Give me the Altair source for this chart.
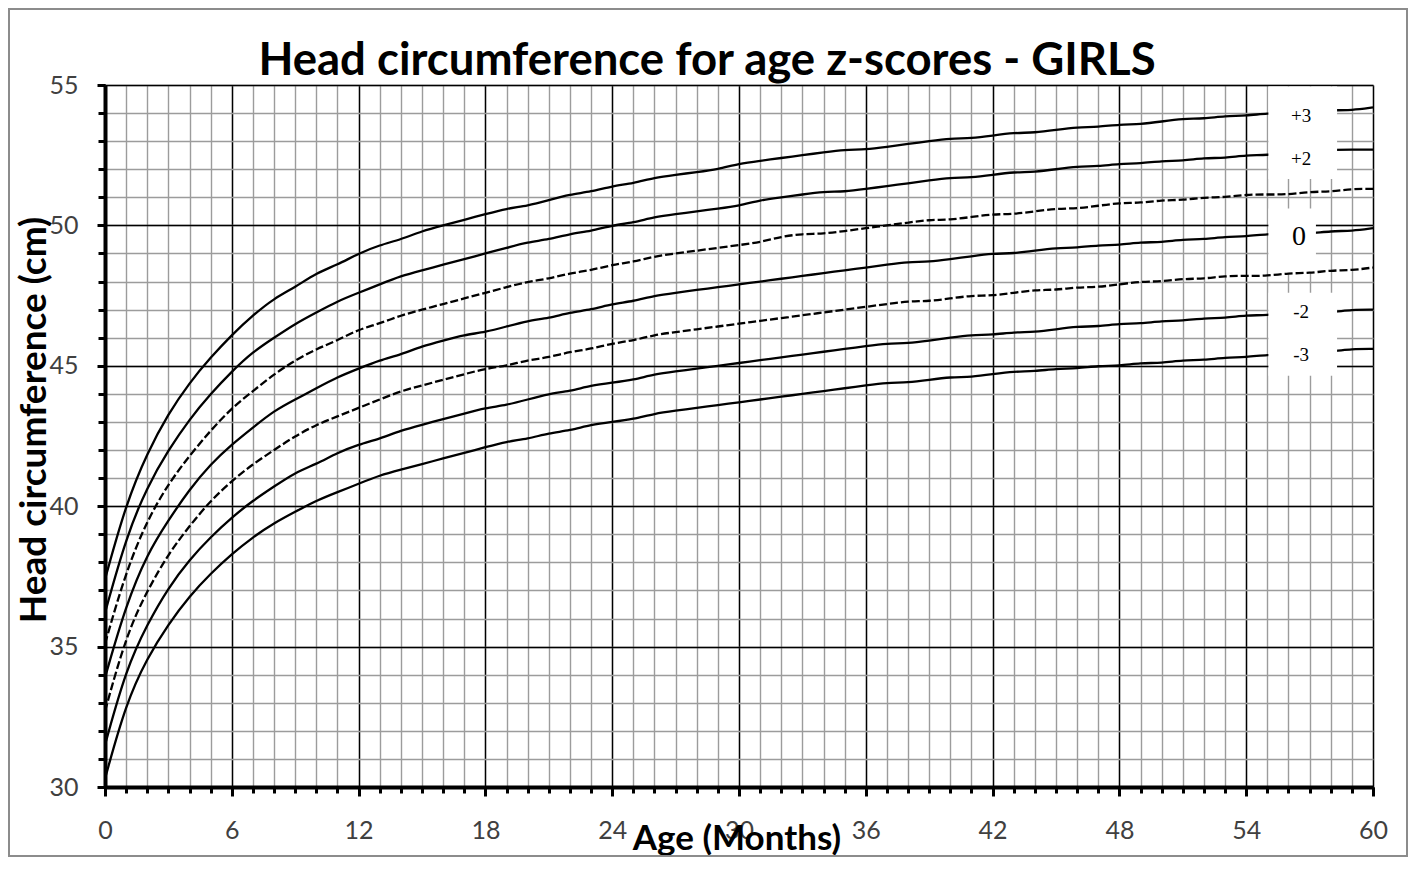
import altair as alt
import pandas as pd

months = list(range(0, 61))

# WHO head circumference-for-age, girls (cm)
z_m3 = [30.3, 33.0, 34.6, 35.8, 36.8, 37.6, 38.3, 38.9, 39.4, 39.8, 40.2, 40.5, 40.8,
        41.1, 41.3, 41.5, 41.7, 41.9, 42.1, 42.3, 42.4, 42.6, 42.7, 42.9, 43.0,
        43.1, 43.3, 43.4, 43.5, 43.6, 43.7, 43.8, 43.9, 44.0, 44.1, 44.2, 44.3,
        44.4, 44.4, 44.5, 44.6, 44.6, 44.7, 44.8, 44.8, 44.9, 44.9, 45.0, 45.0,
        45.1, 45.1, 45.2, 45.2, 45.3, 45.3, 45.4, 45.4, 45.5, 45.5, 45.6, 45.6]
z_m2 = [31.5, 34.2, 35.8, 37.1, 38.1, 38.9, 39.6, 40.2, 40.7, 41.2, 41.5, 41.9, 42.2,
        42.4, 42.7, 42.9, 43.1, 43.3, 43.5, 43.6, 43.8, 44.0, 44.1, 44.3, 44.4,
        44.5, 44.7, 44.8, 44.9, 45.0, 45.1, 45.2, 45.3, 45.4, 45.5, 45.6, 45.7,
        45.8, 45.8, 45.9, 46.0, 46.1, 46.1, 46.2, 46.2, 46.3, 46.4, 46.4, 46.5,
        46.5, 46.6, 46.6, 46.7, 46.7, 46.8, 46.8, 46.9, 46.9, 46.9, 47.0, 47.0]
z_m1 = [32.7, 35.4, 37.0, 38.3, 39.3, 40.2, 40.9, 41.5, 42.0, 42.5, 42.9, 43.2, 43.5,
        43.8, 44.1, 44.3, 44.5, 44.7, 44.9, 45.0, 45.2, 45.3, 45.5, 45.6, 45.8,
        45.9, 46.1, 46.2, 46.3, 46.4, 46.5, 46.6, 46.7, 46.8, 46.9, 47.0, 47.1,
        47.2, 47.3, 47.3, 47.4, 47.5, 47.5, 47.6, 47.7, 47.7, 47.8, 47.8, 47.9,
        48.0, 48.0, 48.1, 48.1, 48.2, 48.2, 48.2, 48.3, 48.3, 48.4, 48.4, 48.5]
z_0 = [33.9, 36.5, 38.3, 39.5, 40.6, 41.5, 42.2, 42.8, 43.4, 43.8, 44.2, 44.6, 44.9,
       45.2, 45.4, 45.7, 45.9, 46.1, 46.2, 46.4, 46.6, 46.7, 46.9, 47.0, 47.2,
       47.3, 47.5, 47.6, 47.7, 47.8, 47.9, 48.0, 48.1, 48.2, 48.3, 48.4, 48.5,
       48.6, 48.7, 48.7, 48.8, 48.9, 49.0, 49.0, 49.1, 49.2, 49.2, 49.3, 49.3,
       49.4, 49.4, 49.5, 49.5, 49.6, 49.6, 49.7, 49.7, 49.7, 49.8, 49.8, 49.9]
z_p1 = [35.1, 37.7, 39.5, 40.8, 41.8, 42.7, 43.5, 44.1, 44.7, 45.2, 45.6, 45.9, 46.3,
        46.5, 46.8, 47.0, 47.2, 47.4, 47.6, 47.8, 48.0, 48.1, 48.3, 48.4, 48.6,
        48.7, 48.9, 49.0, 49.1, 49.2, 49.3, 49.4, 49.6, 49.7, 49.7, 49.8, 49.9,
        50.0, 50.1, 50.2, 50.2, 50.3, 50.4, 50.4, 50.5, 50.6, 50.6, 50.7, 50.8,
        50.8, 50.9, 50.9, 51.0, 51.0, 51.1, 51.1, 51.1, 51.2, 51.2, 51.3, 51.3]
z_p2 = [36.2, 38.9, 40.7, 42.0, 43.1, 44.0, 44.8, 45.5, 46.0, 46.5, 46.9, 47.3, 47.6,
        47.9, 48.2, 48.4, 48.6, 48.8, 49.0, 49.2, 49.4, 49.5, 49.7, 49.8, 50.0,
        50.1, 50.3, 50.4, 50.5, 50.6, 50.7, 50.9, 51.0, 51.1, 51.2, 51.2, 51.3,
        51.4, 51.5, 51.6, 51.7, 51.7, 51.8, 51.9, 51.9, 52.0, 52.1, 52.1, 52.2,
        52.2, 52.3, 52.3, 52.4, 52.4, 52.5, 52.5, 52.6, 52.6, 52.7, 52.7, 52.7]
z_p3 = [37.4, 40.1, 41.9, 43.3, 44.4, 45.3, 46.1, 46.8, 47.4, 47.8, 48.3, 48.6, 49.0,
        49.3, 49.5, 49.8, 50.0, 50.2, 50.4, 50.6, 50.7, 50.9, 51.1, 51.2, 51.4,
        51.5, 51.7, 51.8, 51.9, 52.0, 52.2, 52.3, 52.4, 52.5, 52.6, 52.7, 52.7,
        52.8, 52.9, 53.0, 53.1, 53.1, 53.2, 53.3, 53.3, 53.4, 53.5, 53.5, 53.6,
        53.6, 53.7, 53.8, 53.8, 53.9, 53.9, 54.0, 54.0, 54.1, 54.1, 54.1, 54.2]

solid_series = {"-3": z_m3, "-2": z_m2, "0": z_0, "+2": z_p2, "+3": z_p3}
dashed_series = {"-1": z_m1, "+1": z_p1}

# Label boxes on the right (month range, cm range) and label texts
label_names = ["+3", "+2", "0", "-2", "-3"]
label_x = [56.6, 56.6, 56.5, 56.6, 56.6]
label_y = [53.9, 52.35, 49.6, 46.9, 45.4]
label_size = [19, 19, 28, 19, 19]
box_x1 = [55.05, 55.05, 55.05, 55.05, 55.05]
box_x2 = [58.3, 58.3, 57.3, 58.3, 58.3]
box_y1 = [53.15, 51.65, 48.3, 46.2, 44.65]
box_y2 = [54.95, 53.15, 50.6, 47.6, 46.2]

title_text = "Head circumference for age z-scores - GIRLS"
x_title = "Age (Months)"
y_title = "Head circumference (cm)"

x_minor = list(range(0, 61))
x_major = list(range(0, 61, 6))
y_minor = list(range(30, 56))
y_major = list(range(30, 56, 5))

solid_df = pd.DataFrame([
    {"month": m, "cm": v, "z": k}
    for k, vals in solid_series.items() for m, v in zip(months, vals)
])
dashed_df = pd.DataFrame([
    {"month": m, "cm": v, "z": k}
    for k, vals in dashed_series.items() for m, v in zip(months, vals)
])
box_df = pd.DataFrame({"x1": box_x1, "x2": box_x2, "y1": box_y1, "y2": box_y2})
lab_df = pd.DataFrame({"name": label_names, "x": label_x, "y": label_y, "size": label_size})

xs = alt.Scale(domain=[0, 60], nice=False, zero=False)
ys = alt.Scale(domain=[30, 55], nice=False, zero=False)

GRAY = "#9c9c9c"
LABEL_FONT = "Lato"

minor_x_axis = alt.Axis(values=x_minor, orient="bottom", grid=True, gridColor=GRAY,
                        gridWidth=1.4, labels=False, domain=False, ticks=True,
                        tickSize=6, tickWidth=3, tickColor="black", title=None)
minor_y_axis = alt.Axis(values=y_minor, orient="left", grid=True, gridColor=GRAY,
                        gridWidth=1.4, labels=False, domain=False, ticks=True,
                        tickSize=7, tickWidth=3, tickColor="black", title=None)
major_x_axis = alt.Axis(values=x_major, orient="bottom", grid=True, gridColor="black",
                        gridWidth=1.4, labels=True, domain=True, domainColor="black",
                        domainWidth=4, ticks=True, tickSize=9, tickWidth=3,
                        tickColor="black", labelFont=LABEL_FONT, labelFontSize=25,
                        labelColor="#404040", labelPadding=22, labelBaseline="top",
                        labelFlush=False, title=None, format="d")
major_y_axis = alt.Axis(values=y_major, orient="left", grid=True, gridColor="black",
                        gridWidth=1.4, labels=True, domain=True, domainColor="black",
                        domainWidth=4, ticks=True, tickSize=8, tickWidth=3,
                        tickColor="black", labelFont=LABEL_FONT, labelFontSize=25,
                        labelColor="#404040", labelPadding=19, labelFlush=False,
                        title=None, format="d")

solid = alt.Chart(solid_df).mark_line(color="black", strokeWidth=2.3,
                                      interpolate="basis").encode(
    x=alt.X("month:Q", scale=xs, axis=minor_x_axis),
    y=alt.Y("cm:Q", scale=ys, axis=minor_y_axis),
    detail="z:N",
)

boxes = alt.Chart(box_df).mark_rect(color="white").encode(
    x=alt.X("x1:Q", scale=xs, axis=None),
    x2="x2:Q",
    y=alt.Y("y1:Q", scale=ys, axis=None),
    y2="y2:Q",
)

dashed = alt.Chart(dashed_df).mark_line(color="black", strokeWidth=2.3,
                                        strokeDash=[8, 3],
                                        interpolate="basis").encode(
    x=alt.X("month:Q", scale=xs, axis=major_x_axis),
    y=alt.Y("cm:Q", scale=ys, axis=major_y_axis),
    detail="z:N",
)

labels = alt.Chart(lab_df).mark_text(font="Liberation Serif", color="black",
                                     baseline="middle", align="center").encode(
    x=alt.X("x:Q", scale=xs, axis=None),
    y=alt.Y("y:Q", scale=ys, axis=None),
    text="name:N",
    size=alt.Size("size:Q", scale=None, legend=None),
)

title = alt.Chart(pd.DataFrame({"t": [title_text]})).mark_text(
    font=LABEL_FONT, fontWeight="bold", fontSize=45.5, color="black",
    align="center", baseline="middle").encode(
    text="t:N", x=alt.value(602), y=alt.value(-24))

xt = alt.Chart(pd.DataFrame({"t": [x_title]})).mark_text(
    font=LABEL_FONT, fontWeight="bold", fontSize=35, color="black",
    align="center", baseline="middle").encode(
    text="t:N", x=alt.value(632), y=alt.value(754))

yt = alt.Chart(pd.DataFrame({"t": [y_title]})).mark_text(
    font=LABEL_FONT, fontWeight="bold", fontSize=37, color="black", angle=270,
    align="center", baseline="middle").encode(
    text="t:N", x=alt.value(-70), y=alt.value(335))

frame = alt.Chart(pd.DataFrame({"a": [0]})).mark_rect(
    fill="transparent", stroke="#8c8c8c", strokeWidth=2).encode(
    x=alt.value(-96), x2=alt.value(1302), y=alt.value(-76), y2=alt.value(771))

chart = alt.layer(solid, boxes, dashed, labels, title, xt, yt, frame).resolve_axis(
    x="independent", y="independent"
).properties(
    width=1268, height=702,
    autosize=alt.AutoSizeParams(type="none"),
    padding={"left": 97, "top": 77, "right": 35, "bottom": 72},
).configure_view(stroke=None).configure(background="white")

chart.save("out.html", embed_options={"renderer": "svg", "actions": False})
